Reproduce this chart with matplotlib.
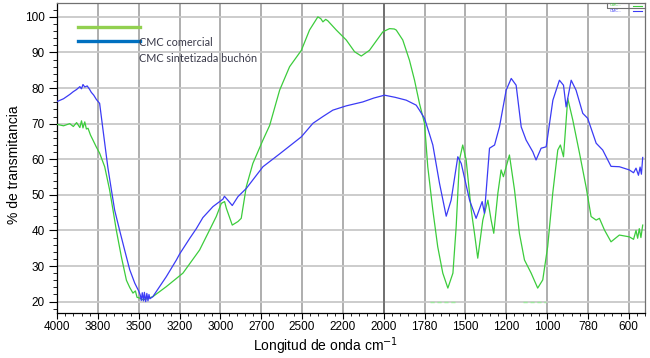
import numpy as np
import matplotlib.pyplot as plt
import matplotlib.transforms as mtransforms
from matplotlib.lines import Line2D

# Espectros FTIR (numero de onda en cm-1, % transmitancia)
wn_buchon = [4000, 3960, 3922, 3900, 3880, 3860, 3850, 3841, 3830, 3815, 3800, 3790, 3775,
             3759, 3739, 3719, 3698, 3688, 3667, 3647, 3617, 3586, 3555, 3524, 3500, 3490,
             3484, 3478, 3470, 3465, 3457, 3450, 3443, 3437, 3431, 3413, 3331, 3269, 3249,
             3187, 3147, 3107, 3045, 2984, 2975, 2954, 2927, 2892, 2841, 2739, 2637, 2504,
             2433, 2372, 2311, 2229, 2128, 2060, 1995, 1930, 1862, 1801, 1781, 1750, 1719,
             1699, 1658, 1617, 1587, 1546, 1525, 1474, 1434, 1397, 1383, 1352, 1321, 1291,
             1250, 1219, 1189, 1158, 1128, 1087, 1067, 1036, 1005, 964, 924, 899, 883, 852,
             822, 781, 751, 699, 659, 608, 557, 496, 470, 455, 440, 430, 422, 414]
t_buchon = [76.2, 77.0, 78.2, 79.0, 79.6, 80.4, 79.8, 81.0, 80.3, 80.6, 79.6, 78.8, 78.0,
            76.8, 75.7, 68.5, 61.0, 57.5, 51.4, 45.7, 40.1, 34.5, 29.0, 25.2, 23.0, 21.8,
            20.3, 22.5, 20.2, 22.6, 20.0, 22.3, 20.2, 22.0, 20.8, 21.4, 27.0, 31.7, 33.4,
            37.8, 40.5, 43.6, 46.7, 48.8, 49.6, 48.5, 47.0, 49.5, 51.8, 57.9, 61.5, 66.3,
            70.1, 72.0, 73.8, 75.0, 76.1, 77.2, 78.0, 77.4, 76.6, 75.2, 73.8, 71.5, 67.0,
            64.0, 53.2, 44.0, 48.5, 60.7, 58.8, 48.5, 43.4, 48.1, 44.8, 63.1, 64.0, 69.1,
            79.4, 82.7, 80.8, 69.1, 65.4, 62.1, 59.8, 63.1, 63.5, 76.6, 82.2, 80.8, 74.7, 82.2,
            79.4, 72.9, 71.5, 64.5, 62.6, 58.0, 57.9, 57.0, 56.2, 57.5, 55.5, 57.8, 55.8, 60.5]

wn_comercial = [4000, 3960, 3922, 3900, 3880, 3860, 3850, 3841, 3830, 3820, 3810, 3795, 3780,
                3760, 3739, 3708, 3678, 3657, 3637, 3606, 3575, 3555, 3535, 3520, 3510, 3494,
                3474, 3450, 3413, 3331, 3229, 3127, 3066, 3025, 2994, 2974, 2963, 2927, 2892,
                2872, 2841, 2801, 2739, 2698, 2637, 2576, 2504, 2454, 2403, 2385, 2372, 2355,
                2342, 2290, 2229, 2178, 2137, 2087, 2005, 1964, 1935, 1923, 1883, 1842, 1811,
                1781, 1750, 1730, 1699, 1669, 1638, 1607, 1576, 1556, 1536, 1516, 1495, 1464,
                1444, 1424, 1393, 1362, 1342, 1326, 1301, 1281, 1267, 1230, 1199, 1169, 1138,
                1097, 1057, 1026, 996, 965, 934, 918, 899, 873, 842, 801, 761, 730, 699, 679,
                648, 608, 557, 496, 470, 455, 445, 435, 425, 414]
t_comercial = [69.8, 69.4, 70.0, 69.2, 70.3, 68.9, 70.8, 68.8, 70.5, 68.5, 68.7, 66.8, 65.4,
               63.5, 61.7, 57.9, 51.4, 45.7, 40.1, 32.6, 26.0, 24.0, 22.4, 23.0, 21.2, 21.0,
               20.5, 20.8, 21.4, 24.2, 28.0, 34.5, 40.1, 43.9, 47.6, 48.1, 46.2, 41.5, 42.5,
               43.4, 52.3, 58.8, 65.4, 69.5, 79.4, 86.0, 90.6, 96.3, 100.0, 99.5, 98.6, 99.3,
               98.9, 96.3, 93.5, 90.2, 89.0, 90.6, 95.8, 96.7, 96.6, 96.3, 93.5, 87.8, 82.2,
               75.7, 70.1, 57.9, 45.7, 35.4, 28.0, 23.8, 28.0, 41.1, 59.8, 64.0, 59.8, 45.7,
               39.2, 32.2, 42.9, 48.5, 42.9, 39.2, 50.4, 57.0, 55.1, 61.2, 51.4, 39.2, 31.7,
               28.0, 23.8, 26.1, 35.4, 50.4, 62.6, 64.0, 60.7, 77.1, 71.0, 61.7, 52.3, 43.9, 42.9,
               43.4, 40.1, 36.8, 38.7, 38.2, 37.5, 40.0, 37.8, 40.5, 38.0, 41.5]

# tramos recortados en 20 %
recorte_ini = [1718, 1144]
recorte_fin = [1553, 1004]

ticks_x = [4000, 3750, 3500, 3250, 3000, 2750, 2500, 2250, 2000, 1750, 1500, 1250, 1000, 750, 500]
etiquetas_x = ["4000", "3800", "3500", "3200", "3000", "2700", "2500", "2200", "2000",
               "1780", "1500", "1200", "1000", "780", "600"]
# pequenos desplazamientos (px) de las etiquetas, como en la figura original
dx_px = [0, 0, 0, 0, -1, 0, -1, -2, -1, 0, -2, 0, 2, -10, -3]
dy_px = [0, 0, 1, 0, -2, -4, -1, 0, 0, -5, 0, -1, -5, -4, -1]
ticks_y = [20, 30, 40, 50, 60, 70, 80, 90, 100]

plt.rcParams['font.family'] = ['Liberation Sans', 'DejaVu Sans']
fig = plt.figure(figsize=(6.5, 3.58), dpi=100)
ax = fig.add_axes([57 / 650, 1 - 313 / 358, 588 / 650, 310 / 358])

ax.plot(wn_comercial, t_comercial, color='#3ccc3c', lw=0.9, zorder=3)
ax.plot(wn_buchon, t_buchon, color='#3b3bf5', lw=0.9, zorder=4)
ax.hlines([20] * len(recorte_ini), recorte_ini, recorte_fin, colors='#9de89d',
          linestyles=(0, (3, 2)), lw=1.0, zorder=2)

ax.set_xlim(4000, 400)
ax.set_ylim(16.8, 103.9)
ax.set_xticks(ticks_x)
ax.set_xticklabels(etiquetas_x, fontsize=8.5)
ax.set_xticks(np.arange(4000, 399, -50), minor=True)
ax.set_yticks(ticks_y)
ax.set_yticklabels([str(v) for v in ticks_y], fontsize=8.5)
ax.set_yticks(np.arange(18, 104, 2), minor=True)

for lab, dx, dy in zip(ax.get_xticklabels(), dx_px, dy_px):
    lab.set_transform(lab.get_transform() +
                      mtransforms.ScaledTranslation(dx / 100, dy / 100, fig.dpi_scale_trans))

ax.tick_params(axis='x', which='major', length=4, width=0.8, pad=1.5, colors='black')
ax.tick_params(axis='x', which='minor', length=2.5, width=0.6)
ax.tick_params(axis='y', which='major', length=6, width=0.8, pad=3)
ax.tick_params(axis='y', which='minor', length=3, width=0.6)

ax.grid(True, axis='y', which='major', color='#c8c8c8', lw=1.3)
ax.grid(True, axis='x', which='major', color='#a8a8a8', lw=1.3)
ax.axvline(2000, color='#606060', lw=1.1, zorder=1)
ax.set_axisbelow(True)

for s in ['left', 'bottom']:
    ax.spines[s].set_color('black')
    ax.spines[s].set_linewidth(0.9)
for s in ['top', 'right']:
    ax.spines[s].set_color('#707070')
    ax.spines[s].set_linewidth(0.9)

ax.set_xlabel("Longitud de onda cm$^{-1}$", fontsize=10)
ax.xaxis.set_label_coords(0.456, -0.072)
ax.set_ylabel("% de transmitancia", fontsize=10)
ax.yaxis.set_label_coords(-0.062, 0.48)

# leyenda pegada (arriba a la izquierda)
fig.add_artist(Line2D([78 / 650, 140 / 650], [1 - 27 / 358] * 2, color='#92d050', lw=2.4))
fig.add_artist(Line2D([78 / 650, 140 / 650], [1 - 41 / 358] * 2, color='#0070c0', lw=2.4))
fig.text(139 / 650, 1 - 43 / 358, "CMC comercial", fontsize=7.8, color='#3a3a4a',
         va='center', family=['Lato', 'DejaVu Sans'])
fig.text(139 / 650, 1 - 58 / 358, "CMC sintetizada buchón", fontsize=7.8, color='#3a3a4a',
         va='center', family=['Lato', 'DejaVu Sans'])

# leyenda diminuta original (arriba a la derecha)
fig.add_artist(Line2D([607 / 650, 607 / 650, 645 / 650], [1 - 3 / 358, 1 - 8 / 358, 1 - 8 / 358],
                      color='#707070', lw=0.8))
fig.text(610 / 650, 1 - 5.5 / 358, "CMC...", fontsize=2.8, color='#3ccc3c', va='center')
fig.text(610 / 650, 1 - 10.5 / 358, "CMC...", fontsize=2.8, color='#3b3bf5', va='center')
fig.add_artist(Line2D([633 / 650, 642 / 650], [1 - 5.5 / 358] * 2, color='#3ccc3c', lw=0.8))
fig.add_artist(Line2D([633 / 650, 642 / 650], [1 - 10.5 / 358] * 2, color='#3b3bf5', lw=0.8))

fig.savefig("out.png", dpi=100)
